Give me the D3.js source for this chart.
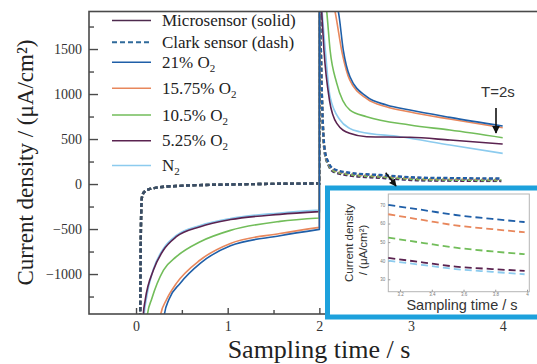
<!DOCTYPE html>
<html>
<head>
<meta charset="utf-8">
<script src="https://cdn.jsdelivr.net/npm/d3@7"></script>
<style>
  body { margin: 0; background: #fff; }
</style>
</head>
<body>
<svg id="chart"></svg>
<script>
const W = 537, H = 364;

// series (microsensor solid, Clark dashed)
const seriesNames = ["21% O2", "15.75% O2", "10.5% O2", "5.25% O2", "N2"];
const seriesColors = ["#1f5fa8", "#e8875c", "#72bd5a", "#5a2350", "#8ccbee"];

// microsensor, cathodic step 0-2 s  [time s, current µA/cm2]
const micro21Neg  = [[0.29,-1700],[0.31,-1444],[0.36,-1280],[0.48,-1104],[0.70,-881],[1.03,-685],[1.57,-575],[2.0,-504]];
const micro1575Neg= [[0.25,-1700],[0.27,-1444],[0.33,-1290],[0.44,-1104],[0.70,-844],[1.03,-660],[1.57,-550],[2.0,-481]];
const micro105Neg = [[0.11,-1700],[0.125,-1444],[0.17,-1280],[0.30,-956],[0.44,-807],[0.70,-641],[1.03,-515],[1.57,-415],[2.0,-378]];
const micro525Neg = [[0.07,-1700],[0.08,-1444],[0.10,-1290],[0.19,-956],[0.30,-733],[0.44,-585],[0.70,-474],[1.03,-395],[1.57,-337],[2.0,-307]];
const microN2Neg  = [[0.08,-1700],[0.09,-1444],[0.11,-1290],[0.19,-945],[0.30,-715],[0.44,-570],[0.70,-460],[1.03,-382],[1.57,-322],[2.0,-290]];

// microsensor, anodic step 2-4 s
const micro21Pos  = [[2.0,2400],[2.206,1922],[2.261,1489],[2.334,1192],[2.516,970],[2.734,878],[2.988,822],[3.424,741],[4.0,644]];
const micro1575Pos= [[2.0,2400],[2.17,1922],[2.25,1450],[2.33,1160],[2.52,945],[2.73,858],[2.99,800],[3.42,722],[4.0,626]];
const micro105Pos = [[2.0,2400],[2.08,1922],[2.117,1489],[2.19,1119],[2.334,822],[2.516,748],[2.988,656],[3.424,600],[4.0,515]];
const micro525Pos = [[2.0,2400],[2.025,1922],[2.05,1489],[2.11,933],[2.19,674],[2.33,563],[2.516,526],[2.988,519],[3.424,489],[4.0,444]];
const microN2Pos  = [[2.0,2400],[2.03,1922],[2.065,1489],[2.117,970],[2.226,711],[2.33,619],[2.44,581],[2.88,526],[3.424,433],[4.0,341]];

// Clark sensor
const clarkNeg = [[0.04,-1700],[0.045,-1444],[0.052,-600],[0.062,-170],[0.075,-110],[0.10,-78],[0.15,-55],[0.226,-40],[0.48,-20],[1.03,-5],[1.5,2],[2.0,6]];
const clark21Pos  = [[2.0,2400],[2.03,900],[2.06,370],[2.1,240],[2.15,170],[2.33,125],[2.66,100],[3.126,70],[3.35,67.2],[3.55,64.6],[3.78,62.5],[3.985,60.8]];
const clark1575Pos= [[2.0,2400],[2.03,895],[2.06,365],[2.1,235],[2.15,165],[2.33,120],[2.66,95],[3.126,65],[3.35,61.8],[3.55,59],[3.78,57],[3.985,55.3]];
const clark105Pos = [[2.0,2400],[2.03,880],[2.06,352],[2.1,222],[2.15,152],[2.33,108],[2.66,82],[3.126,52.4],[3.35,49.5],[3.55,47],[3.78,45],[3.985,43.5]];
const clark525Pos = [[2.0,2400],[2.03,870],[2.06,340],[2.1,210],[2.15,140],[2.33,96],[2.66,70],[3.126,41.5],[3.35,39],[3.55,36.8],[3.78,35.5],[3.985,34.5]];
const clarkN2Pos  = [[2.0,2400],[2.03,868],[2.06,338],[2.1,208],[2.15,138],[2.33,94],[2.66,68],[3.126,40],[3.35,37.6],[3.55,35.5],[3.78,34],[3.985,32.7]];

// ticks
const xTicks = [0, 1, 2, 3, 4];
const xMinor = [0.5, 1.5, 2.5, 3.5];
const yTicks = [-1000, -500, 0, 500, 1000, 1500];
const yMinor = [-1250, -750, -250, 250, 750, 1250, 1750];
const insetXTicks = [3.2, 3.4, 3.6, 3.8, 4];
const insetYTicks = [30, 40, 50, 60, 70];

const legendLabels = ["Microsensor (solid)", "Clark sensor (dash)", "21% O", "15.75% O", "10.5% O", "5.25% O", "N"];
const legendSub = ["", "", "2", "2", "2", "2", "2"];

const micro = [
  { neg: micro21Neg, pos: micro21Pos },
  { neg: micro1575Neg, pos: micro1575Pos },
  { neg: micro105Neg, pos: micro105Pos },
  { neg: micro525Neg, pos: micro525Pos },
  { neg: microN2Neg, pos: microN2Pos }
].map((d, i) => ({ ...d, name: seriesNames[i], color: seriesColors[i] }));

const clark = [clark21Pos, clark1575Pos, clark105Pos, clark525Pos, clarkN2Pos]
  .map((pos, i) => ({ neg: clarkNeg, pos: pos, name: seriesNames[i], color: seriesColors[i] }));

const serif = "'Liberation Serif', 'Times New Roman', serif";
const sans = "'Liberation Sans', Arial, sans-serif";

const svg = d3.select("#chart").attr("width", W).attr("height", H)
  .style("font-family", serif);

const plot = { left: 89, top: 11.5, right: 540, bottom: 314 };

const x = d3.scaleLinear().domain([-0.513, 4.407]).range([plot.left, plot.right]);
const y = d3.scaleLinear().domain([-1444, 1917]).range([plot.bottom, plot.top]);

svg.append("defs").append("clipPath").attr("id", "clipMain")
  .append("rect")
  .attr("x", plot.left).attr("y", plot.top)
  .attr("width", plot.right - plot.left).attr("height", plot.bottom - plot.top);

const line = d3.line().x(d => x(d[0])).y(d => y(d[1])).curve(d3.curveMonotoneX);

// neg part, jump at t=2 s, pos part as one path
function stepPath(s) {
  return line(s.neg) + "L" + x(2) + "," + y(2400) + line(s.pos).replace(/^M/, "L");
}

const gLines = svg.append("g").attr("clip-path", "url(#clipMain)");

// Clark (dashed) drawn first, blue last so it sits on top
clark.slice().reverse().forEach(s => {
  gLines.append("path")
    .attr("d", stepPath(s))
    .attr("fill", "none")
    .attr("stroke", s.color)
    .attr("stroke-width", 2.4)
    .attr("stroke-dasharray", "4,2.5");
});
// darker overlay on the cathodic Clark branch
gLines.append("path")
  .attr("d", line(clarkNeg) + "L" + x(2) + "," + y(2400))
  .attr("fill", "none")
  .attr("stroke", "#3b4d63")
  .attr("stroke-width", 2.4)
  .attr("stroke-dasharray", "4,2.5");

micro.slice().reverse().forEach(s => {
  gLines.append("path")
    .attr("d", stepPath(s))
    .attr("fill", "none")
    .attr("stroke", s.color)
    .attr("stroke-width", 1.6);
});

// frame
svg.append("rect")
  .attr("x", plot.left).attr("y", plot.top)
  .attr("width", plot.right - plot.left).attr("height", plot.bottom - plot.top)
  .attr("fill", "none").attr("stroke", "#4a4a4a").attr("stroke-width", 1.6);

// axes (ticks inside)
svg.append("g").attr("transform", `translate(${plot.left},0)`)
  .call(d3.axisLeft(y).tickValues(yTicks).tickSizeInner(-9).tickSizeOuter(0).tickPadding(7)
    .tickFormat(d => String(d).replace("-", "\u2212")));
svg.append("g").attr("transform", `translate(${plot.left},0)`)
  .call(d3.axisLeft(y).tickValues(yMinor).tickSizeInner(-5).tickSizeOuter(0).tickFormat(""));

svg.append("g").attr("transform", `translate(0,${plot.bottom})`)
  .call(d3.axisBottom(x).tickValues(xTicks).tickSizeInner(-6).tickSizeOuter(0).tickPadding(7)
    .tickFormat(d3.format("d")));
svg.append("g").attr("transform", `translate(0,${plot.bottom})`)
  .call(d3.axisBottom(x).tickValues(xMinor).tickSizeInner(-4).tickSizeOuter(0).tickFormat(""));

svg.selectAll(".domain").remove();
svg.selectAll(".tick line").attr("stroke", "#4a4a4a").attr("stroke-width", 1.4);
svg.selectAll(".tick text").attr("font-family", serif).attr("font-size", 14).attr("fill", "#333");

// axis titles
svg.append("text")
  .attr("transform", "translate(33,162.5) rotate(-90)")
  .attr("text-anchor", "middle")
  .attr("font-size", 23).attr("fill", "#222")
  .text("Current density / (μA/cm²)");

svg.append("text")
  .attr("x", 319).attr("y", 358)
  .attr("text-anchor", "middle")
  .attr("font-size", 26).attr("fill", "#222")
  .text("Sampling time / s");

// legend
const legendY = [20.5, 42.3, 62.3, 88.3, 115, 140.7, 165.5];
const legendColor = ["#4e2a4e", "#2f6a9a"].concat(seriesColors);
const legend = svg.append("g");
legendLabels.forEach((lab, i) => {
  legend.append("line")
    .attr("x1", 112).attr("x2", 151)
    .attr("y1", legendY[i]).attr("y2", legendY[i])
    .attr("stroke", legendColor[i])
    .attr("stroke-width", i === 1 ? 2 : 1.6)
    .attr("stroke-dasharray", i === 1 ? "5,3" : null);
  const t = legend.append("text")
    .attr("x", 162).attr("y", legendY[i] + 5.5)
    .attr("font-size", 17).attr("fill", "#222");
  t.append("tspan").text(lab);
  if (legendSub[i]) {
    t.append("tspan").attr("dy", 4).attr("font-size", 11).text(legendSub[i]);
  }
});

// T=2s annotation
svg.append("defs").append("marker")
  .attr("id", "arrow").attr("viewBox", "0 0 10 10")
  .attr("refX", 9).attr("refY", 5)
  .attr("markerWidth", 5).attr("markerHeight", 5)
  .attr("orient", "auto")
  .append("path").attr("d", "M0,0L10,5L0,10z").attr("fill", "#111");

svg.append("text")
  .attr("x", 498).attr("y", 97)
  .attr("text-anchor", "middle")
  .attr("font-family", sans).attr("font-size", 15).attr("fill", "#333")
  .text("T=2s");
svg.append("line")
  .attr("x1", 496).attr("y1", 108).attr("x2", 496).attr("y2", 133)
  .attr("stroke", "#111").attr("stroke-width", 1.6)
  .attr("marker-end", "url(#arrow)");

// inset
const box = { left: 327.5, top: 188, right: 545, bottom: 317 };
svg.append("rect")
  .attr("x", box.left).attr("y", box.top)
  .attr("width", box.right - box.left).attr("height", box.bottom - box.top)
  .attr("fill", "#fff").attr("stroke", "#1da1dc").attr("stroke-width", 5);

svg.append("line")
  .attr("x1", 385.7).attr("y1", 172.7).attr("x2", 396).attr("y2", 186)
  .attr("stroke", "#111").attr("stroke-width", 1.5)
  .attr("marker-end", "url(#arrow)");

const ins = { left: 388.3, top: 194, right: 529.3, bottom: 291.7 };
const xi = d3.scaleLinear().domain([3.126, 4.0145]).range([ins.left, ins.right]);
const yi = d3.scaleLinear().domain([23.3, 75.9]).range([ins.bottom, ins.top]);
const lineI = d3.line().x(d => xi(d[0])).y(d => yi(d[1])).curve(d3.curveMonotoneX);

svg.append("rect")
  .attr("x", ins.left).attr("y", ins.top)
  .attr("width", ins.right - ins.left).attr("height", ins.bottom - ins.top)
  .attr("fill", "#fff").attr("stroke", "#b5b5b5").attr("stroke-width", 1);

const gi = svg.append("g");
gi.append("g").attr("transform", `translate(${ins.left},0)`)
  .call(d3.axisLeft(yi).tickValues(insetYTicks).tickSizeInner(-2).tickSizeOuter(0).tickPadding(3));
gi.append("g").attr("transform", `translate(0,${ins.bottom})`)
  .call(d3.axisBottom(xi).tickValues(insetXTicks).tickSizeInner(-2).tickSizeOuter(0).tickPadding(1)
    .tickFormat(d3.format("~g")));
gi.selectAll(".domain").remove();
gi.selectAll(".tick line").attr("stroke", "#999");
gi.selectAll(".tick text").attr("font-family", sans).attr("font-size", 4.5).attr("fill", "#777");

clark.forEach(s => {
  gi.append("path")
    .attr("d", lineI(s.pos.filter(d => d[0] >= 3.126)))
    .attr("fill", "none")
    .attr("stroke", s.color)
    .attr("stroke-width", 1.8)
    .attr("stroke-dasharray", "7,4");
});

svg.append("text")
  .attr("transform", "translate(353,243) rotate(-90)")
  .attr("text-anchor", "middle")
  .attr("font-family", sans).attr("font-size", 11.5).attr("fill", "#333")
  .text("Current density");
svg.append("text")
  .attr("transform", "translate(367,250) rotate(-90)")
  .attr("text-anchor", "middle")
  .attr("font-family", sans).attr("font-size", 11.5).attr("fill", "#333")
  .text("/ (μA/cm²)");
svg.append("text")
  .attr("x", 462).attr("y", 310)
  .attr("text-anchor", "middle")
  .attr("font-family", sans).attr("font-size", 14.5).attr("fill", "#333")
  .text("Sampling time / s");
</script>
</body>
</html>
